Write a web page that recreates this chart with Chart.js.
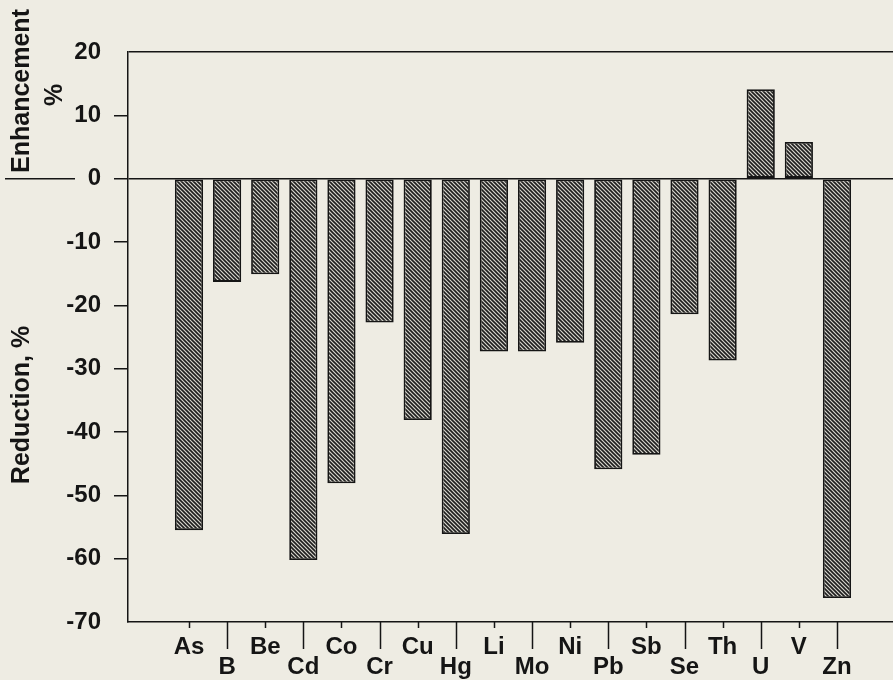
<!DOCTYPE html>
<html>
<head>
<meta charset="utf-8">
<script src="https://cdn.jsdelivr.net/npm/chart.js@4.4.0/dist/chart.umd.min.js"></script>
<style>
html,body{margin:0;padding:0;background:#eeece3;overflow:hidden;}
canvas{display:block;}
</style>
</head>
<body>
<canvas id="Chart1" width="893" height="680"></canvas>
<script>
var elements = ['As','B','Be','Cd','Co','Cr','Cu','Hg','Li','Mo','Ni','Pb','Sb','Se','Th','U','V','Zn'];
var change = [-55.5,-16.3,-15.1,-60.2,-48.1,-22.7,-38.1,-56.1,-27.3,-27.3,-25.9,-45.9,-43.6,-21.4,-28.7,14.1,5.8,-66.2];
var yTicks = [20,10,0,-10,-20,-30,-40,-50,-60,-70];
var titleUp = ['Enhancement','%'];
var titleDown = 'Reduction, %';

var fam = '"Liberation Sans", Arial, Helvetica, sans-serif';
var ink = '#151515';

function hatch(ctx){
    var c = document.createElement('canvas');
    c.width = 4; c.height = 4;
    var g = c.getContext('2d');
    g.fillStyle = '#d6d4cc';
    g.fillRect(0,0,4,4);
    g.strokeStyle = '#1e1e1e';
    g.lineWidth = 1.6;
    g.beginPath();
    g.moveTo(-1,-1); g.lineTo(5,5);
    g.moveTo(-1,3); g.lineTo(1,5);
    g.moveTo(3,-1); g.lineTo(5,1);
    g.stroke();
    return ctx.createPattern(c,'repeat');
}

// extra bits: staggered x ticks, axis titles, separator line
var decor = {
    id: 'decor',
    afterDraw: function(chart){
        var ctx = chart.ctx, xs = chart.scales.x, ys = chart.scales.y, ca = chart.chartArea;
        ctx.save();
        ctx.strokeStyle = ink;
        ctx.lineWidth = 1.5;
        for (var i = 0; i < elements.length; i++) {
            var px = Math.round(xs.getPixelForValue(i)) + 0.5;
            ctx.beginPath();
            ctx.moveTo(px, ca.bottom);
            ctx.lineTo(px, ca.bottom + (i % 2 ? 27 : 6));
            ctx.stroke();
        }
        var y0 = ys.getPixelForValue(0);
        ctx.beginPath();
        ctx.moveTo(5, y0); ctx.lineTo(75, y0);
        ctx.stroke();

        ctx.fillStyle = ink;
        ctx.font = 'bold 25px ' + fam;
        ctx.textAlign = 'center';
        ctx.textBaseline = 'middle';
        ctx.save();
        ctx.translate(22, 91); ctx.rotate(-Math.PI/2);
        ctx.fillText(titleUp[0], 0, 0);
        ctx.restore();
        ctx.save();
        ctx.translate(55, 95); ctx.rotate(-Math.PI/2);
        ctx.fillText(titleUp[1], 0, 0);
        ctx.restore();
        ctx.save();
        ctx.translate(22, 405); ctx.rotate(-Math.PI/2);
        ctx.fillText(titleDown, 0, 0);
        ctx.restore();
        ctx.restore();
    }
};

window.onload = function(){
    var ctx = document.getElementById('Chart1').getContext('2d');
    var pts = [];
    for (var i = 0; i < elements.length; i++) pts.push({x: i, y: change[i]});
    new Chart(ctx, {
        type: 'bar',
        data: {
            datasets: [{
                data: pts,
                backgroundColor: hatch(ctx),
                borderColor: ink,
                borderWidth: 1.8,
                borderSkipped: false,
                barPercentage: 0.74,
                categoryPercentage: 1
            }]
        },
        options: {
            responsive: false,
            animation: false,
            layout: {padding: {top: 52, right: 0, left: 0, bottom: 0}},
            plugins: {legend: {display: false}, tooltip: {enabled: false}},
            scales: {
                x: {
                    type: 'linear',
                    offset: false,
                    min: -1.6,
                    max: 18.47,
                    afterBuildTicks: function(s){ s.ticks = elements.map(function(e,i){ return {value: i}; }); },
                    afterFit: function(s){ s.height = 58; },
                    grid: {display: false, offset: false},
                    border: {display: true, color: ink, width: 1.5},
                    ticks: {
                        autoSkip: false, maxRotation: 0, padding: 7, color: ink,
                        font: {family: fam, size: 24, weight: 'bold', lineHeight: 0.85},
                        callback: function(v){ var n = elements[v]; return (v % 2) ? ['', n] : n; }
                    }
                },
                y: {
                    min: -70, max: 20,
                    afterBuildTicks: function(s){ s.ticks = yTicks.map(function(v){ return {value: v}; }); },
                    afterFit: function(s){ s.width = 128; },
                    border: {display: true, color: ink, width: 1.5},
                    grid: {
                        lineWidth: 1.5,
                        tickLength: 14,
                        color: function(c){ return (c.tick && (c.tick.value === 0 || c.tick.value === 20)) ? ink : 'rgba(0,0,0,0)'; },
                        tickColor: function(c){ return (c.tick && (c.tick.value === 20 || c.tick.value === -70)) ? 'rgba(0,0,0,0)' : ink; }
                    },
                    ticks: {
                        padding: 13, color: ink,
                        font: {family: fam, size: 24, weight: 'bold'}
                    }
                }
            }
        },
        plugins: [decor]
    });
};
</script>
</body>
</html>
